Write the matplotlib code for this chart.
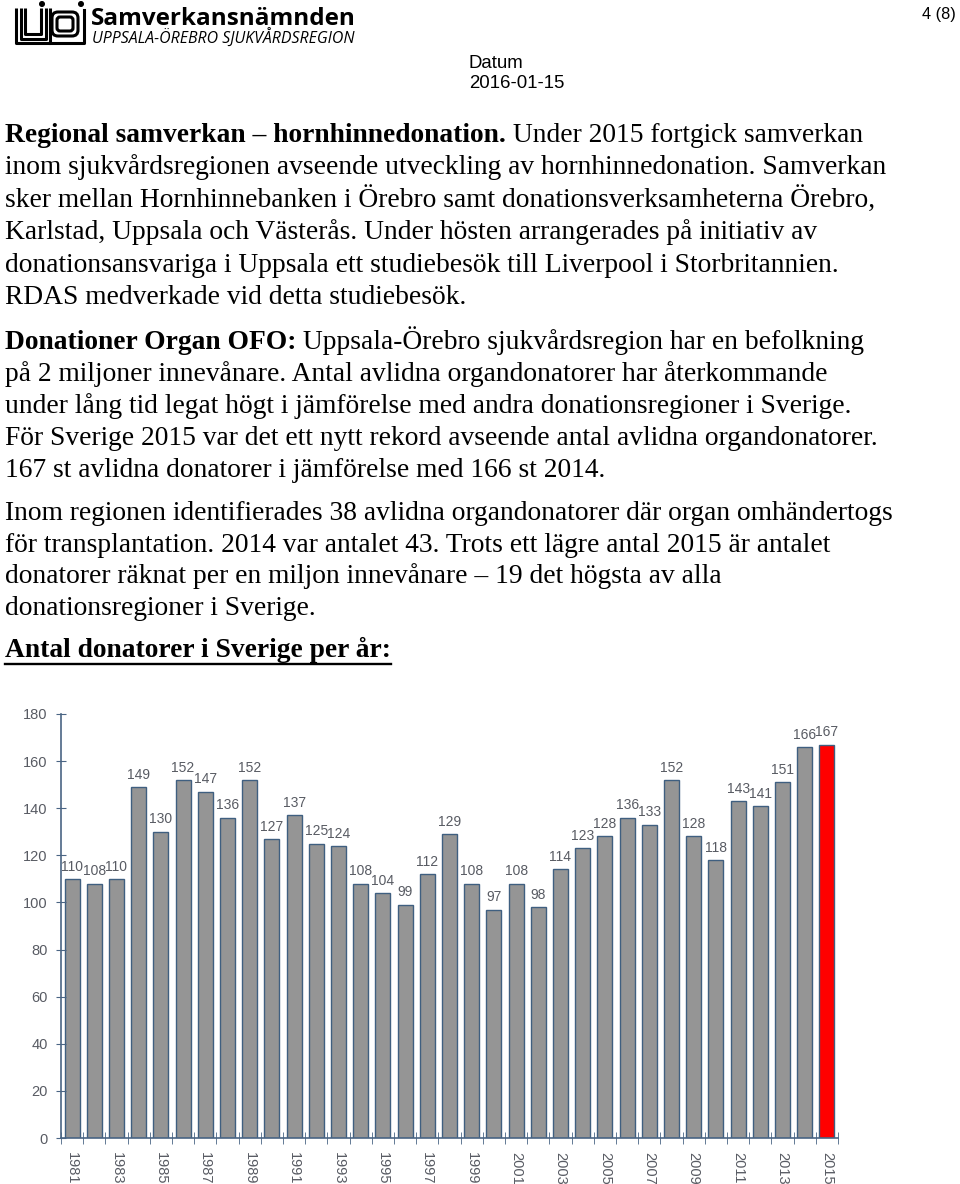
import matplotlib
matplotlib.use("Agg")
import matplotlib.pyplot as plt
from matplotlib.patches import FancyBboxPatch, Circle

# --- data ---
years = list(range(1981, 2016))
donors = [110, 108, 110, 149, 130, 152, 147, 136, 152, 127,
          137, 125, 124, 108, 104, 99, 112, 129, 108, 97,
          108, 98, 114, 123, 128, 136, 133, 152, 128, 118,
          143, 141, 151, 166, 167]
yticks = [0, 20, 40, 60, 80, 100, 120, 140, 160, 180]

para1 = [
    [("Regional samverkan \u2013 hornhinnedonation.", "bold"), (" Under 2015 fortgick samverkan", "normal")],
    [("inom sjukvårdsregionen avseende utveckling av hornhinnedonation. Samverkan", "normal")],
    [("sker mellan Hornhinnebanken i Örebro samt donationsverksamheterna Örebro,", "normal")],
    [("Karlstad, Uppsala och Västerås. Under hösten arrangerades på initiativ av", "normal")],
    [("donationsansvariga i Uppsala ett studiebesök till Liverpool i Storbritannien.", "normal")],
    [("RDAS medverkade vid detta studiebesök.", "normal")],
]
para2 = [
    [("Donationer Organ OFO:", "bold"), (" Uppsala-Örebro sjukvårdsregion har en befolkning", "normal")],
    [("på 2 miljoner innevånare. Antal avlidna organdonatorer har återkommande", "normal")],
    [("under lång tid legat högt i jämförelse med andra donationsregioner i Sverige.", "normal")],
    [("För Sverige 2015 var det ett nytt rekord avseende antal avlidna organdonatorer.", "normal")],
    [("167 st avlidna donatorer i jämförelse med 166 st 2014.", "normal")],
]
para3 = [
    [("Inom regionen identifierades 38 avlidna organdonatorer där organ omhändertogs", "normal")],
    [("för transplantation. 2014 var antalet 43. Trots ett lägre antal 2015 är antalet", "normal")],
    [("donatorer räknat per en miljon innevånare \u2013 19 det högsta av alla", "normal")],
    [("donationsregioner i Sverige.", "normal")],
]
heading = "Antal donatorer i Sverige per år:"

W, H = 960, 1184
fig = plt.figure(figsize=(W / 100, H / 100), dpi=100)
page = fig.add_axes([0, 0, 1, 1])
page.set_xlim(0, W)
page.set_ylim(H, 0)
page.axis("off")

SERIF = "Liberation Serif"
FS = 19.85

# --- header ---
def ushape(x0, x1, yt, yb, lw):
    page.plot([x0, x0, x1, x1], [yt, yb, yb, yt], color="black", lw=lw,
              solid_joinstyle="round", solid_capstyle="butt")

ushape(16, 50, 8, 43, 2.2)
ushape(20.5, 45.5, 8, 38.5, 2.2)
ushape(25, 41, 8, 34, 2.2)
page.plot([50, 84, 84], [43, 43, 10], color="black", lw=2.2, solid_joinstyle="round")
page.add_patch(FancyBboxPatch((52, 12), 26, 24, boxstyle="round,pad=0,rounding_size=6",
                              fc="none", ec="black", lw=2.2))
page.add_patch(FancyBboxPatch((57, 17), 16, 14, boxstyle="round,pad=0,rounding_size=3",
                              fc="none", ec="black", lw=2.2))
page.add_patch(Circle((42, 4), 2.3, color="black"))
page.add_patch(Circle((81, 4), 2.3, color="black"))

page.text(91, 25, "Samverkansnämnden", fontsize=17.5, fontweight="bold",
          family="Open Sans", va="baseline", ha="left")
page.text(92, 44, "UPPSALA-ÖREBRO SJUKVÅRDSREGION", fontsize=11.4, style="italic",
          family="Open Sans", va="baseline", ha="left")
page.text(956, 19, "4 (8)", fontsize=11.8, family="Liberation Sans", va="baseline", ha="right")
page.text(469, 68, "Datum", fontsize=13.4, family="Liberation Sans", va="baseline", ha="left")
page.text(469, 88, "2016-01-15", fontsize=13.4, family="Liberation Sans", va="baseline", ha="left")

# --- body text ---
fig.canvas.draw()
renderer = fig.canvas.get_renderer()
inv = page.transData.inverted()


def draw_line(parts, x, y):
    for txt, weight in parts:
        t = page.text(x, y, txt, fontsize=FS, fontweight=weight, family=SERIF,
                      va="baseline", ha="left", color="black")
        bb = t.get_window_extent(renderer)
        x = inv.transform((bb.x1, bb.y0))[0]
    return x


for i, parts in enumerate(para1):
    draw_line(parts, 5, 142 + i * 32.4)
for i, parts in enumerate(para2):
    draw_line(parts, 5, 349 + i * 32.1)
for i, parts in enumerate(para3):
    draw_line(parts, 5, 520 + i * 31.7)

x_end = draw_line([(heading, "bold")], 5, 657)
page.plot([5, x_end], [664, 664], color="black", lw=1.7)

# --- chart ---
ax_l, ax_r, ax_b, ax_t = 61, 838, 1138, 714
ax = fig.add_axes([ax_l / W, (H - ax_b) / H, (ax_r - ax_l) / W, (ax_b - ax_t) / H])
axc = "#4a6584"
grey = "#585b63"
colors = ["#959595"] * (len(years) - 1) + ["#ff0000"]
xs = list(range(len(years)))
ax.bar(xs, donors, width=0.68, color=colors, edgecolor="#3f5f80", linewidth=1.0)
for x, v in zip(xs, donors):
    ax.annotate(str(v), (x, v), textcoords="offset points", xytext=(0, 6),
                ha="center", va="baseline", fontsize=10, color=grey,
                family="Liberation Sans")

ax.set_xlim(-0.5, len(years) - 0.5)
ax.set_ylim(0, 180)
for s in ["top", "right"]:
    ax.spines[s].set_visible(False)
for s in ["left", "bottom"]:
    ax.spines[s].set_color(axc)
    ax.spines[s].set_linewidth(1.2)

ax.set_yticks(yticks)
ax.set_yticklabels([str(v) for v in yticks], fontsize=10.5, color=grey,
                   family="Liberation Sans")
ax.tick_params(axis="y", direction="inout", length=7, color=axc, pad=6)

ax.set_xticks(xs[::2])
ax.set_xticklabels([str(y) for y in years[::2]], rotation=270, fontsize=10.5,
                   color=grey, family="Liberation Sans")
ax.set_xticks([x - 0.5 for x in range(len(years) + 1)], minor=True)
ax.tick_params(axis="x", which="major", length=0, pad=10)
ax.tick_params(axis="x", which="minor", direction="inout", length=8, color=axc)
ax.set_facecolor("none")

fig.savefig("out.png", dpi=100)
